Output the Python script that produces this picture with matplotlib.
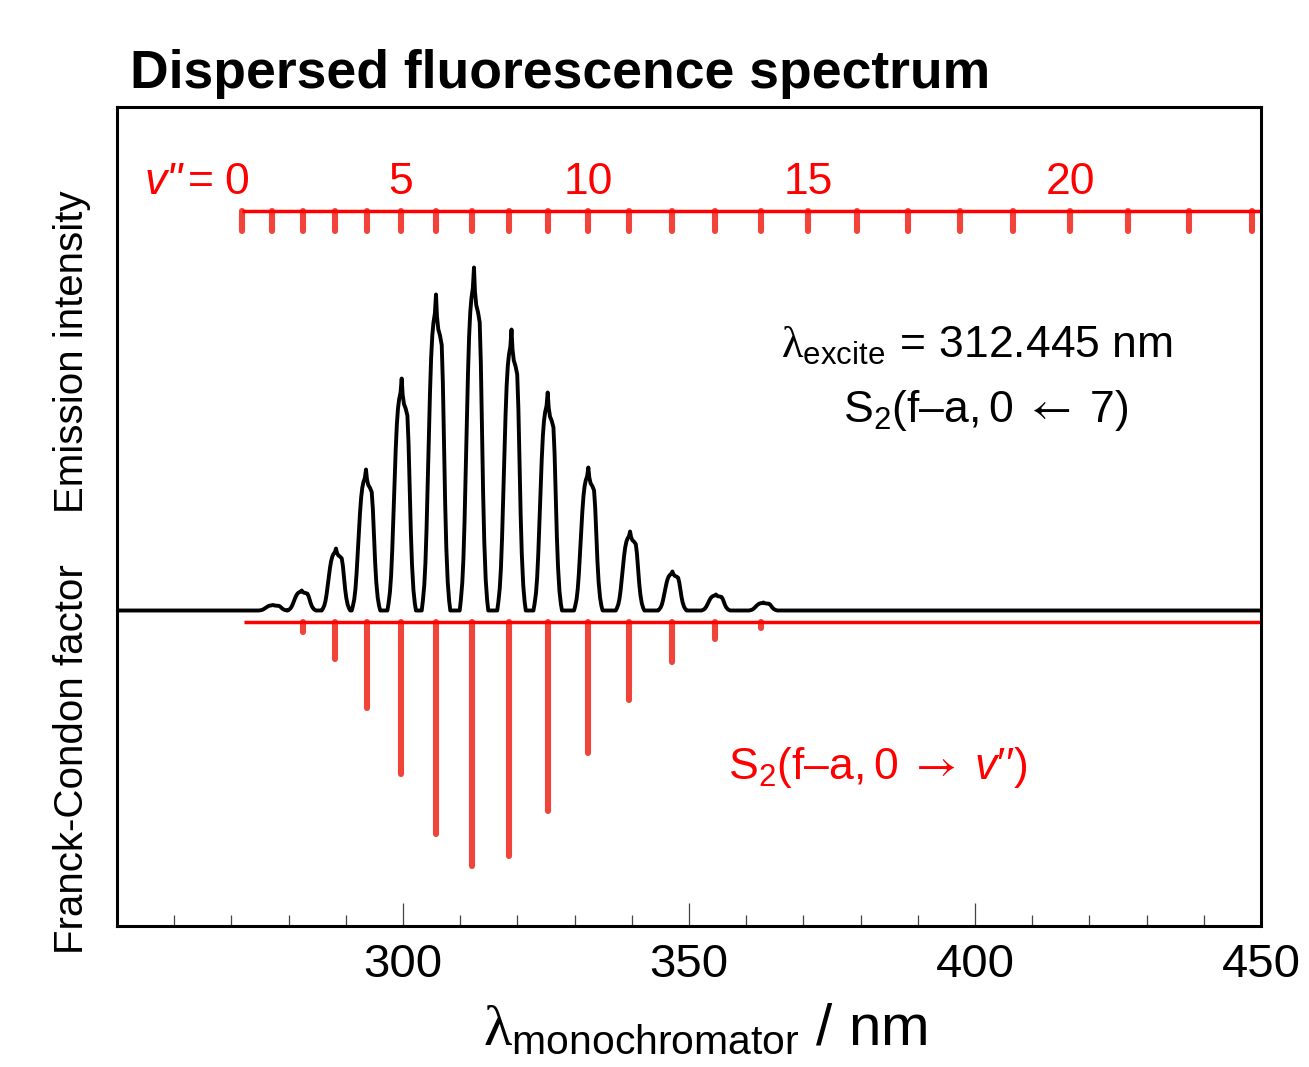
import matplotlib
matplotlib.use("Agg")
import matplotlib.pyplot as plt
from matplotlib.ticker import FixedLocator

plt.rcParams["font.family"] = ["Liberation Sans", "DejaVu Sans"]
plt.rcParams["mathtext.fontset"] = "custom"
plt.rcParams["mathtext.rm"] = "Liberation Sans"
plt.rcParams["mathtext.it"] = "Liberation Sans:italic"
plt.rcParams["mathtext.cal"] = "Liberation Serif"
plt.rcParams["mathtext.sf"] = "STIXGeneral"
plt.rcParams["mathtext.fallback"] = "stix"

# ---- data -----------------------------------------------------------------
# wavelengths (nm) of the emission to the lower-state levels v'' = 0..23
level_v = list(range(24))
level_nm = [271.85, 277.08, 282.57, 288.11, 293.74, 299.63, 305.84, 312.01,
            318.57, 325.38, 332.41, 339.56, 346.99, 354.60, 362.61, 370.80,
            379.39, 388.29, 397.31, 406.73, 416.64, 426.82, 437.43, 448.43]
level_labels = [0, 5, 10, 15, 20]

# calculated Franck-Condon factors (arb. units), v'' = 0..14
fc_factor = [0, 0, 10, 37, 86, 152, 212, 244, 234, 189, 131, 78, 40, 17, 6]

# observed emission bands: peak wavelength (nm) and peak intensity (arb. units)
band_nm = [277.31, 282.29, 288.29, 293.53, 299.77, 305.77, 312.41, 318.97,
           325.30, 332.40, 339.70, 347.10, 354.70, 363.00]
band_height = [5.5, 20, 62, 141, 232, 316, 343, 281, 218, 143, 79, 39, 16, 8]

# traced shape of one band: offset from peak (nm) and relative intensity
profile_offset = [-2.5, -2.3, -2.05, -1.85, -1.65, -1.45, -1.25, -1.05, -0.85,
                  -0.65, -0.45, -0.2, 0.0, 0.17, 0.40, 0.70, 1.00, 1.20, 1.40,
                  1.60, 1.80, 2.05, 2.3, 2.5]
profile_rel = [0.0, 0.03, 0.08, 0.15, 0.26, 0.40, 0.55, 0.69, 0.80, 0.87,
               0.91, 0.94, 1.0, 0.93, 0.89, 0.87, 0.84, 0.72, 0.53, 0.34,
               0.20, 0.09, 0.03, 0.0]

x_range = (250, 450)

# ---- assemble the spectrum trace -----------------------------------------
spec_x = [x_range[0]]
spec_y = [0.0]
for c, h in zip(band_nm, band_height):
    for off, rel in zip(profile_offset, profile_rel):
        spec_x.append(c + off)
        spec_y.append(h * rel)
spec_x.append(x_range[1])
spec_y.append(0.0)

# ---- figure ----------------------------------------------------------------
fig = plt.figure(figsize=(13.09, 10.67), dpi=100)
ax = fig.add_axes([117 / 1309, 1 - 926 / 1067, (1261 - 117) / 1309, (926 - 107) / 1067])
ax.set_xlim(*x_range)
ax.set_ylim(-315.5, 503.5)

red = "#ff0000"
red_bar = "#f0443a"

# emission spectrum
ax.plot(spec_x, spec_y, color="black", lw=2.8, solid_joinstyle="round", zorder=3)

# Franck-Condon stick spectrum hanging below its baseline
fc_base = -11
ax.plot([level_nm[0] + 0.3, x_range[1]], [fc_base, fc_base], color=red, lw=2.5,
        solid_capstyle="butt", zorder=2)
for nm, f in zip(level_nm, fc_factor):
    if f > 0:
        ax.plot([nm, nm], [fc_base, fc_base - f], color=red_bar, lw=4.4,
                solid_capstyle="round", zorder=1)

# vibrational level ladder at the top
ladder_y = 399.5
ax.plot([level_nm[0], x_range[1]], [ladder_y, ladder_y], color=red, lw=2.5,
        solid_capstyle="butt", zorder=2)
for nm in level_nm:
    ax.plot([nm, nm], [ladder_y, ladder_y - 20], color=red_bar, lw=4.4,
            solid_capstyle="round", zorder=1)
for v in level_labels:
    xpos = level_nm[v] - (1.0 if v == 0 else 0.0)
    ax.text(xpos, 416, str(v), color=red, fontsize=32, ha="center", va="baseline")
ax.text(261.5, 416, 'v"', color=red, fontsize=32, style="italic", ha="right", va="baseline")
ax.text(264.6, 416, "=", color=red, fontsize=32, ha="center", va="baseline")

# annotations
ax.text(400.3, 265, r"$\mathcal{\lambda}_{\mathrm{excite}}\,=\,\mathrm{312.445\ nm}$",
        fontsize=32, ha="center", va="center")
ax.text(401.9, 200, r"$\mathrm{S}_{2}\mathrm{(f–a,0}\;\mathsf{\leftarrow}\;\mathrm{7)}$",
        fontsize=32, ha="center", va="center")
ax.text(383.0, -157, r"$\mathrm{S}_{2}\mathrm{(f–a,0}\;\mathsf{\rightarrow}\;v\prime\prime\mathrm{)}$",
        fontsize=32, ha="center", va="center", color=red)

# axes styling
for side in ("left", "right", "top", "bottom"):
    ax.spines[side].set_linewidth(2.2)
ax.set_yticks([])
ax.xaxis.set_major_locator(FixedLocator([300, 350, 400, 450]))
ax.xaxis.set_minor_locator(FixedLocator([260, 270, 280, 290, 310, 320, 330, 340,
                                         360, 370, 380, 390, 410, 420, 430, 440]))
ax.tick_params(axis="x", which="major", direction="in", length=16.5, width=0.9,
               color="#444444", labelsize=34, pad=12)
ax.tick_params(axis="x", which="minor", direction="in", length=8, width=0.9,
               color="#444444")

# axis titles
fig.text(72 / 1309, 1 - 352 / 1067, "Emission intensity", rotation=90,
         ha="center", va="center", fontsize=29)
fig.text(72 / 1309, 1 - 759 / 1067, "Franck-Condon factor", rotation=90,
         ha="center", va="center", fontsize=29)
fig.text(705 / 1309, 1 - 1045 / 1067,
         r"$\mathcal{\lambda}_{\mathrm{monochromator}}\mathrm{\ /\ nm}$",
         ha="center", va="baseline", fontsize=42)

fig.text(130 / 1309, 1 - 88 / 1067, "Dispersed fluorescence spectrum",
         fontsize=38.5, fontweight="bold", ha="left", va="baseline")

fig.savefig("out.png", dpi=100)
